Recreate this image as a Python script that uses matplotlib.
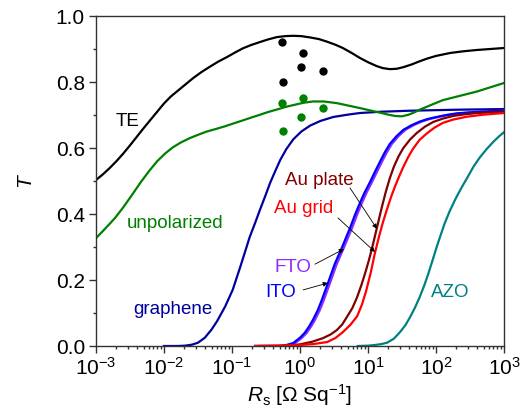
import numpy as np
import matplotlib
matplotlib.use("Agg")
import matplotlib.pyplot as plt
from matplotlib.ticker import FixedLocator, FixedFormatter, NullFormatter

plt.rcParams['font.family'] = ['Liberation Sans', 'DejaVu Sans']
plt.rcParams['mathtext.fontset'] = 'custom'
plt.rcParams['mathtext.rm'] = 'Liberation Sans'
plt.rcParams['mathtext.it'] = 'Liberation Sans:italic'
plt.rcParams['mathtext.bf'] = 'Liberation Sans:bold'

# ---- data (log10 of sheet resistance, transmittance) ----
te_logR = [-3, -2.9, -2.8, -2.7, -2.6, -2.5, -2.4, -2.3, -2.2, -2.1, -2.0, -1.9, -1.8, -1.7,
           -1.57, -1.45, -1.32, -1.2, -1.07, -0.95, -0.84, -0.72, -0.59, -0.47, -0.34, -0.22,
           -0.1, 0.02, 0.15, 0.28, 0.4, 0.52, 0.63, 0.76, 0.88, 1.0, 1.13, 1.22, 1.32, 1.42,
           1.52, 1.64, 1.75, 1.87, 2.0, 2.21, 2.4, 2.6, 2.8, 3]
te_T = [0.503, 0.52, 0.539, 0.56, 0.583, 0.608, 0.634, 0.66, 0.685, 0.71, 0.735, 0.756, 0.773, 0.79,
        0.812, 0.83, 0.847, 0.862, 0.876, 0.89, 0.902, 0.912, 0.921, 0.929, 0.936, 0.939,
        0.94, 0.939, 0.935, 0.93, 0.922, 0.913, 0.903, 0.888, 0.873, 0.86, 0.848, 0.842, 0.839, 0.84,
        0.845, 0.853, 0.862, 0.871, 0.879, 0.888, 0.893, 0.897, 0.9, 0.903]

unpol_logR = [-3, -2.9, -2.8, -2.72, -2.6, -2.48, -2.35, -2.22, -2.1, -1.98, -1.87, -1.75, -1.62,
              -1.5, -1.37, -1.23, -1.1, -0.97, -0.85, -0.72, -0.6, -0.47, -0.35, -0.22, -0.1,
              0.05, 0.19, 0.35, 0.54, 0.7, 0.88, 1.05, 1.2, 1.3, 1.4, 1.5, 1.6, 1.68, 1.76, 1.9,
              2.1, 2.35, 2.6, 2.8, 3]
unpol_T = [0.327, 0.348, 0.37, 0.388, 0.42, 0.455, 0.494, 0.53, 0.56, 0.584, 0.602, 0.617, 0.63,
           0.64, 0.65, 0.658, 0.666, 0.675, 0.683, 0.692, 0.7, 0.709, 0.716, 0.724, 0.73,
           0.737, 0.741, 0.741, 0.736, 0.729, 0.721, 0.713, 0.706, 0.701, 0.697, 0.696, 0.701, 0.708,
           0.716, 0.728, 0.745, 0.758, 0.771, 0.784, 0.797]

graphene_logR = [-2, -1.8, -1.69, -1.59, -1.5, -1.4, -1.3, -1.22, -1.1, -0.99, -0.87, -0.74, -0.66,
                 -0.59, -0.51, -0.44, -0.36, -0.29, -0.2, -0.1, 0.02, 0.15, 0.3, 0.49, 0.7, 0.88,
                 1.2, 1.62, 2.3, 3]
graphene_T = [0, 0, 0.001, 0.004, 0.01, 0.025, 0.05, 0.075, 0.12, 0.17, 0.245, 0.33, 0.373,
              0.412, 0.455, 0.494, 0.532, 0.564, 0.597, 0.626, 0.65, 0.668, 0.682, 0.694, 0.701, 0.706,
              0.71, 0.713, 0.716, 0.718]

ito_logR = [-0.66, -0.3, -0.2, -0.1, 0.0, 0.07, 0.13, 0.19, 0.26, 0.32, 0.41, 0.51, 0.62, 0.74,
            0.81, 0.88, 0.95, 1.03, 1.1, 1.18, 1.25, 1.32, 1.42, 1.52, 1.64, 1.76, 1.88, 2.01,
            2.15, 2.31, 2.5, 2.65, 3]
ito_T = [0, 0.0, 0.003, 0.009, 0.025, 0.04, 0.058, 0.079, 0.108, 0.139, 0.19, 0.248, 0.3, 0.36,
         0.398, 0.433, 0.465, 0.497, 0.527, 0.56, 0.588, 0.612, 0.636, 0.655, 0.669, 0.68, 0.688, 0.694,
         0.7, 0.705, 0.708, 0.71, 0.713]

fto_logR = [-0.6, -0.27, -0.17, -0.07, 0.03, 0.1, 0.16, 0.22, 0.29, 0.35, 0.44, 0.54, 0.65, 0.77,
            0.84, 0.91, 0.98, 1.06, 1.13, 1.21, 1.28, 1.35, 1.45, 1.55, 1.67, 1.79, 1.91, 2.04,
            2.18, 2.34, 2.53, 2.68, 3]
fto_T = [0, 0.0, 0.003, 0.009, 0.025, 0.04, 0.058, 0.079, 0.108, 0.139, 0.19, 0.248, 0.3, 0.36,
         0.398, 0.433, 0.465, 0.497, 0.527, 0.56, 0.588, 0.612, 0.636, 0.655, 0.669, 0.68, 0.688, 0.694,
         0.7, 0.705, 0.708, 0.71, 0.713]

auplate_logR = [-0.66, -0.2, 0.0, 0.18, 0.34, 0.45, 0.54, 0.62, 0.69, 0.77, 0.84, 0.9, 0.96, 1.02,
                1.08, 1.14, 1.2, 1.26, 1.32, 1.38, 1.45, 1.52, 1.62, 1.72, 1.84, 1.96, 2.1, 2.25,
                2.42, 2.6, 2.8, 3]
auplate_T = [0, 0.0, 0.005, 0.013, 0.024, 0.035, 0.048, 0.065, 0.088, 0.115, 0.148, 0.183, 0.222, 0.265,
             0.314, 0.366, 0.418, 0.466, 0.508, 0.543, 0.575, 0.6, 0.626, 0.646, 0.665, 0.679, 0.689, 0.697,
             0.702, 0.706, 0.708, 0.71]

augrid_logR = [-0.66, 0.0, 0.2, 0.4, 0.52, 0.63, 0.74, 0.84, 0.91, 0.97, 1.04, 1.1, 1.16, 1.22,
               1.28, 1.34, 1.4, 1.46, 1.52, 1.59, 1.66, 1.76, 1.87, 1.98, 2.1, 2.25, 2.46, 2.7, 3]
augrid_T = [0, 0.003, 0.006, 0.012, 0.024, 0.042, 0.064, 0.09, 0.125, 0.165, 0.222, 0.28, 0.33, 0.375,
            0.415, 0.452, 0.485, 0.515, 0.543, 0.572, 0.597, 0.625, 0.645, 0.662, 0.676, 0.686, 0.695,
            0.701, 0.706]

azo_logR = [0.85, 1.0, 1.1, 1.2, 1.28, 1.38, 1.47, 1.55, 1.62, 1.69, 1.76, 1.83, 1.89, 1.95, 2.01,
            2.07, 2.13, 2.2, 2.28, 2.37, 2.46, 2.55, 2.65, 2.75, 2.84, 2.92, 3]
azo_T = [0, 0.001, 0.003, 0.006, 0.01, 0.022, 0.042, 0.063, 0.088, 0.116, 0.148, 0.185, 0.221, 0.26,
         0.3, 0.337, 0.373, 0.408, 0.443, 0.478, 0.51, 0.543, 0.573, 0.598, 0.618, 0.634, 0.648]

# measured points
dots_R = [0.54, 1.1, 1.02, 2.16, 0.56]
dots_TE = [0.922, 0.887, 0.846, 0.834, 0.80]
dots_unpol = [0.735, 0.751, 0.695, 0.72, 0.653]

xtick_vals = [1e-3, 1e-2, 1e-1, 1e0, 1e1, 1e2, 1e3]
xtick_labels = [r'$\mathregular{10^{-3}}$', r'$\mathregular{10^{-2}}$', r'$\mathregular{10^{-1}}$',
                r'$\mathregular{10^{0}}$', r'$\mathregular{10^{1}}$', r'$\mathregular{10^{2}}$',
                r'$\mathregular{10^{3}}$']
ytick_vals = [0.0, 0.2, 0.4, 0.6, 0.8, 1.0]
ytick_labels = ['0.0', '0.2', '0.4', '0.6', '0.8', '1.0']

def R(logs):
    return np.power(10.0, np.array(logs, dtype=float))

fig = plt.figure(figsize=(5.2, 4.2), dpi=100)
ax = fig.add_axes([96/520, 74/420, 408/520, 330/420])

lw = 1.6
ax.plot(R(graphene_logR), graphene_T, color='#0000A0', lw=lw)
ax.plot(R(fto_logR), fto_T, color='#8F2BFF', lw=lw)
ax.plot(R(ito_logR), ito_T, color='#0000FF', lw=lw)
ax.plot(R(auplate_logR), auplate_T, color='#800000', lw=lw)
ax.plot(R(augrid_logR), augrid_T, color='#FF0000', lw=lw)
ax.plot(R(azo_logR), azo_T, color='#008080', lw=lw)
ax.plot(R(unpol_logR), unpol_T, color='#008000', lw=lw)
ax.plot(R(te_logR), te_T, color='black', lw=lw)

ax.plot(dots_R, dots_TE, 'o', color='black', ms=6, mec='none')
ax.plot(dots_R, dots_unpol, 'o', color='#008000', ms=6, mec='none')

ax.set_xscale('log')
ax.set_xlim(1e-3, 1e3)
ax.set_ylim(0, 1.0)

ax.xaxis.set_major_locator(FixedLocator(xtick_vals))
ax.xaxis.set_major_formatter(FixedFormatter(xtick_labels))
minors = [m * 10.0**e for e in range(-3, 3) for m in range(2, 10)]
ax.xaxis.set_minor_locator(FixedLocator(minors))
ax.xaxis.set_minor_formatter(NullFormatter())
ax.yaxis.set_major_locator(FixedLocator(ytick_vals))
ax.yaxis.set_major_formatter(FixedFormatter(ytick_labels))
ax.yaxis.set_minor_locator(FixedLocator([0.1, 0.3, 0.5, 0.7, 0.9]))

spc = '#333333'
for s in ax.spines.values():
    s.set_color(spc)
    s.set_linewidth(1.0)
ax.tick_params(which='both', direction='out', color=spc, top=False, right=False, width=1.0)
ax.tick_params(which='major', length=5, labelsize=15, pad=3)
ax.tick_params(which='minor', length=2.5)

ax.set_xlabel(r'$R_{\mathregular{s}}$ [$\mathregular{\Omega}$ Sq$^{\mathregular{-1}}$]', fontsize=15, labelpad=2)
ax.set_ylabel(r'$T$', fontsize=15, labelpad=14)

fs = 13.5
ax.text(0.00295, 0.679, 'TE', color='black', fontsize=fs, ha='center', va='center')
ax.text(0.0145, 0.370, 'unpolarized', color='#008000', fontsize=fs, ha='center', va='center')
ax.text(0.01355, 0.112, 'graphene', color='#0000A0', fontsize=fs, ha='center', va='center')
ax.text(1.90, 0.503, 'Au plate', color='#800000', fontsize=fs, ha='center', va='center')
ax.text(1.146, 0.418, 'Au grid', color='#FF0000', fontsize=fs, ha='center', va='center')
ax.text(0.789, 0.239, 'FTO', color='#8F2BFF', fontsize=fs, ha='center', va='center')
ax.text(0.526, 0.161, 'ITO', color='#0000FF', fontsize=fs, ha='center', va='center')
ax.text(160.7, 0.161, 'AZO', color='#008080', fontsize=fs, ha='center', va='center')

ap = dict(arrowstyle='-|>', color='black', lw=0.6, mutation_scale=7, shrinkA=0, shrinkB=0)
ax.annotate('', xy=(13.56, 0.355), xytext=(5.43, 0.479), arrowprops=ap)
ax.annotate('', xy=(12.67, 0.285), xytext=(3.62, 0.388), arrowprops=ap)
ax.annotate('', xy=(4.44, 0.294), xytext=(1.66, 0.248), arrowprops=ap)
ax.annotate('', xy=(2.58, 0.191), xytext=(1.11, 0.170), arrowprops=ap)

fig.savefig('out.png', dpi=100)
